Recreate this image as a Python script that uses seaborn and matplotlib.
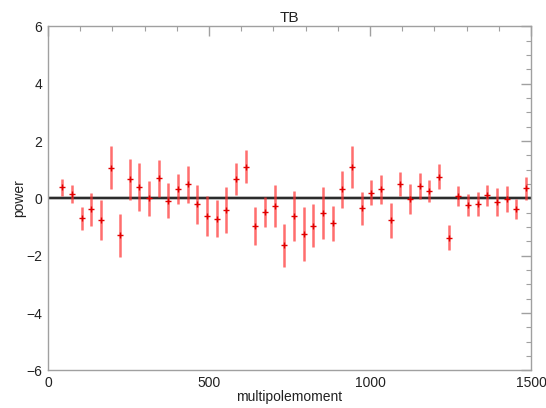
import numpy as np
import pandas as pd
import seaborn as sns
import matplotlib.pyplot as plt
from matplotlib.ticker import MultipleLocator

# Binned TB spectrum
multipole = [44, 74, 104, 134, 164, 194, 224, 254, 284, 314,
             344, 374, 404, 434, 464, 494, 524, 554, 584, 614,
             644, 674, 704, 734, 764, 794, 824, 854, 884, 914,
             944, 974, 1004, 1034, 1064, 1094, 1124, 1154, 1184, 1214,
             1244, 1274, 1304, 1334, 1364, 1394, 1424, 1454, 1484]
power = [0.38, 0.14, -0.70, -0.38, -0.76, 1.07, -1.29, 0.66, 0.39, 0.00,
         0.70, -0.09, 0.33, 0.49, -0.21, -0.61, -0.71, -0.41, 0.67, 1.11,
         -0.97, -0.47, -0.26, -1.64, -0.62, -1.24, -0.95, -0.52, -0.86, 0.32,
         1.10, -0.35, 0.20, 0.31, -0.77, 0.50, -0.02, 0.43, 0.26, 0.75,
         -1.37, 0.09, -0.24, -0.20, 0.11, -0.12, -0.02, -0.38, 0.35]
power_err = [0.29, 0.31, 0.40, 0.57, 0.70, 0.76, 0.74, 0.72, 0.83, 0.62,
             0.64, 0.61, 0.53, 0.64, 0.67, 0.69, 0.65, 0.81, 0.55, 0.57,
             0.67, 0.53, 0.74, 0.75, 0.88, 0.95, 0.76, 0.91, 0.61, 0.64,
             0.73, 0.59, 0.44, 0.51, 0.62, 0.41, 0.53, 0.46, 0.39, 0.44,
             0.44, 0.35, 0.39, 0.43, 0.36, 0.48, 0.45, 0.35, 0.40]

df = pd.DataFrame({"l": multipole, "power": power, "err": power_err})

sns.set_style("white")
plt.rcParams["font.family"] = ["Liberation Sans", "DejaVu Sans"]

fig = plt.figure(figsize=(5.46, 4.08), dpi=100)
ax = fig.add_axes([0.088, 0.092, 0.8845, 0.8435])

# zero line with a soft grey halo
ax.axhline(0, color="#b8b8b8", lw=2.8, zorder=1)
ax.axhline(0, color="#111111", lw=1.2, zorder=2)

# error bars
ax.vlines(df["l"], df["power"] - df["err"], df["power"] + df["err"],
          color="#ff3030", alpha=0.7, lw=1.8, zorder=3)
sns.scatterplot(data=df, x="l", y="power", marker="+", s=20,
                color="#e00000", linewidth=1.0, ax=ax, zorder=4)

ax.set_xlim(0, 1500)
ax.set_ylim(-6, 6)
ax.xaxis.set_major_locator(MultipleLocator(500))
ax.xaxis.set_minor_locator(MultipleLocator(100))
ax.yaxis.set_major_locator(MultipleLocator(2))
ax.yaxis.set_minor_locator(MultipleLocator(0.5))

for s in ax.spines.values():
    s.set_color("#a0a0a0")
    s.set_linewidth(1.0)
ax.tick_params(which="both", direction="in", top=True, right=True,
               color="#a0a0a0", labelcolor="#222222", labelsize=10)
ax.tick_params(which="major", length=7, width=1.0, pad=4)
ax.tick_params(which="minor", length=3.5, width=0.8)

ax.set_title("TB", fontsize=11, color="#222222", pad=3)
ax.set_xlabel("multipolemoment", fontsize=10, color="#222222", labelpad=0)
ax.set_ylabel("power", fontsize=10, color="#222222", labelpad=0)

fig.savefig("out.png", dpi=100)
